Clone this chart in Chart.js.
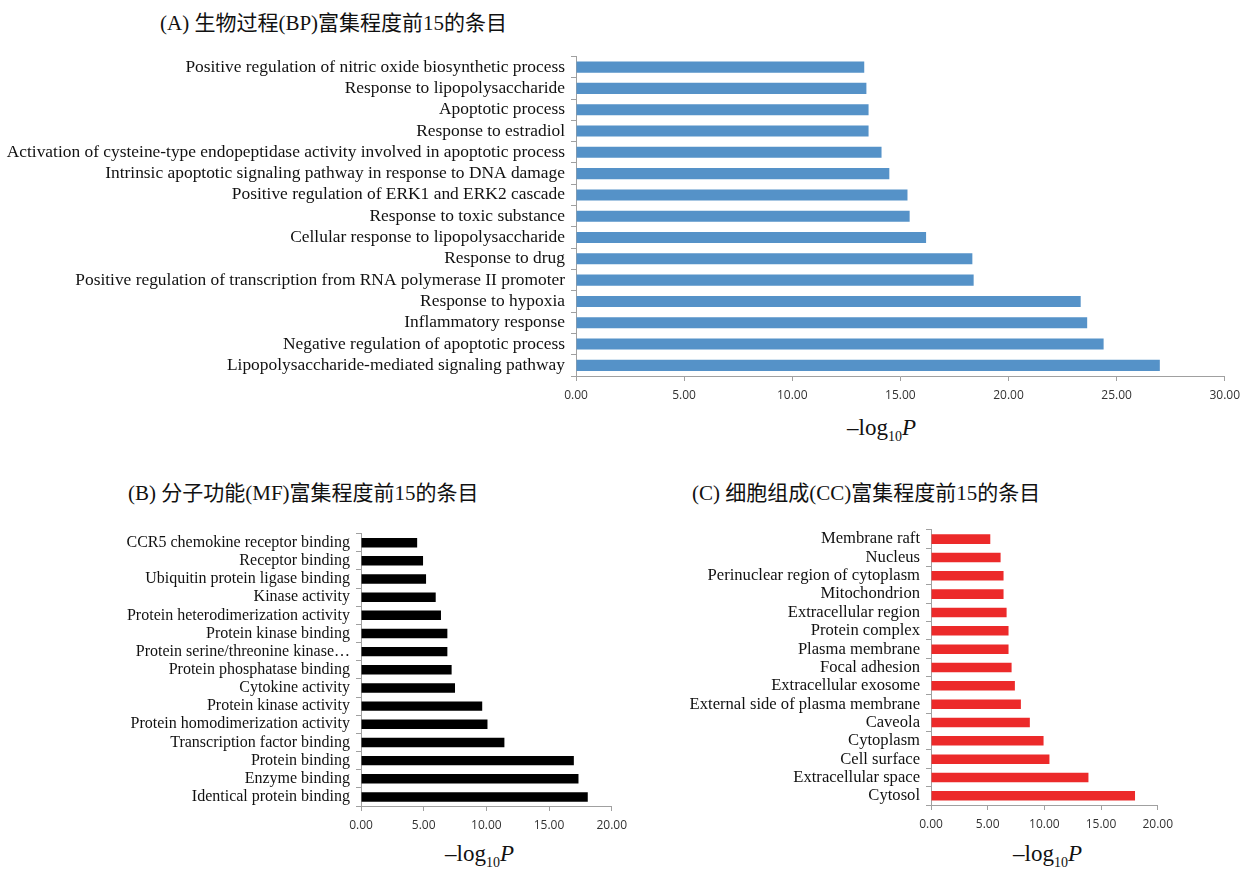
<!DOCTYPE html>
<html>
<head>
<meta charset="utf-8">
<script src="https://cdn.jsdelivr.net/npm/chart.js@4"></script>
<style>
  body { margin: 0; background: #fff; width: 1252px; height: 871px; position: relative; overflow: hidden; }
  canvas { position: absolute; }
  .titulo { position: absolute; font-family: "Liberation Serif", "Noto Sans CJK SC", serif; font-size: 21px; color: #111; white-space: nowrap; }
  .eje { position: absolute; font-family: "Liberation Serif", serif; font-size: 23px; color: #111; white-space: nowrap; }
  .eje sub { font-size: 14px; color: #111; }
</style>
</head>
<body>
<div class="titulo" style="left:160px; top:6px;">(A) 生物过程(BP)富集程度前15的条目</div>
<div class="titulo" style="left:128px; top:476px;">(B) 分子功能(MF)富集程度前15的条目</div>
<div class="titulo" style="left:692px; top:476px;">(C) 细胞组成(CC)富集程度前15的条目</div>

<canvas id="chartBP" width="1247" height="370" style="left:0px; top:40px;"></canvas>
<canvas id="chartMF" width="634" height="322" style="left:0px; top:518px;"></canvas>
<canvas id="chartCC" width="580" height="325" style="left:600px; top:514px;"></canvas>

<div class="eje" style="left:847px; top:415px;">&ndash;log<sub>10</sub><i>P</i></div>
<div class="eje" style="left:445px; top:841px;">&ndash;log<sub>10</sub><i>P</i></div>
<div class="eje" style="left:1013px; top:841px;">&ndash;log<sub>10</sub><i>P</i></div>

<script>
// ==========================================
// DATOS (de arriba hacia abajo)
// ==========================================
const bpLabels = [
    "Positive regulation of nitric oxide biosynthetic process",
    "Response to lipopolysaccharide",
    "Apoptotic process",
    "Response to estradiol",
    "Activation of cysteine-type endopeptidase activity involved in apoptotic process",
    "Intrinsic apoptotic signaling pathway in response to DNA damage",
    "Positive regulation of ERK1 and ERK2 cascade",
    "Response to toxic substance",
    "Cellular response to lipopolysaccharide",
    "Response to drug",
    "Positive regulation of transcription from RNA polymerase II promoter",
    "Response to hypoxia",
    "Inflammatory response",
    "Negative regulation of apoptotic process",
    "Lipopolysaccharide-mediated signaling pathway"
];
const bpValues = [13.33, 13.43, 13.53, 13.53, 14.13, 14.49, 15.33, 15.43, 16.19, 18.33, 18.39, 23.34, 23.64, 24.40, 27.00];

const mfLabels = [
    "CCR5 chemokine receptor binding",
    "Receptor binding",
    "Ubiquitin protein ligase binding",
    "Kinase activity",
    "Protein heterodimerization activity",
    "Protein kinase binding",
    "Protein serine/threonine kinase\u2026",
    "Protein phosphatase binding",
    "Cytokine activity",
    "Protein kinase activity",
    "Protein homodimerization activity",
    "Transcription factor binding",
    "Protein binding",
    "Enzyme binding",
    "Identical protein binding"
];
const mfValues = [4.48, 4.95, 5.19, 5.96, 6.38, 6.89, 6.89, 7.23, 7.50, 9.67, 10.09, 11.44, 16.98, 17.35, 18.09];

const ccLabels = [
    "Membrane raft",
    "Nucleus",
    "Perinuclear region of cytoplasm",
    "Mitochondrion",
    "Extracellular region",
    "Protein complex",
    "Plasma membrane",
    "Focal adhesion",
    "Extracellular exosome",
    "External side of plasma membrane",
    "Caveola",
    "Cytoplasm",
    "Cell surface",
    "Extracellular space",
    "Cytosol"
];
const ccValues = [5.23, 6.14, 6.40, 6.40, 6.67, 6.84, 6.84, 7.11, 7.40, 7.93, 8.72, 9.93, 10.45, 13.89, 18.00];

const xTicksBP = [0, 30, 5];
const xTicksSmall = [0, 20, 5];

// ==========================================
// CONFIGURACIÓN COMÚN
// ==========================================
Chart.defaults.animation = false;
Chart.defaults.devicePixelRatio = 1;

function crearGrafica(id, labels, values, color, ticks, yWidth, fontSize) {
    return new Chart(document.getElementById(id), {
        type: 'bar',
        data: {
            labels: labels,
            datasets: [{
                data: values,
                backgroundColor: color,
                borderWidth: 0,
                barPercentage: 0.52,
                categoryPercentage: 1
            }]
        },
        options: {
            indexAxis: 'y',
            responsive: false,
            layout: { padding: { top: 10, right: 22, bottom: 4, left: 0 } },
            plugins: { legend: { display: false }, tooltip: { enabled: false } },
            scales: {
                x: {
                    min: ticks[0],
                    max: ticks[1],
                    ticks: {
                        stepSize: ticks[2],
                        padding: 7,
                        color: '#333',
                        font: { family: "'Open Sans', sans-serif", size: 12 },
                        maxRotation: 0,
                        callback: v => v.toFixed(2)
                    },
                    grid: { drawOnChartArea: false, tickLength: 5, color: '#a0a0a0' },
                    border: { color: '#a0a0a0' },
                    afterFit: s => { s.height = 30; }
                },
                y: {
                    ticks: {
                        padding: 6,
                        color: '#111',
                        font: { family: "'Liberation Serif', serif", size: fontSize },
                        autoSkip: false
                    },
                    grid: { drawOnChartArea: false, tickLength: 5, color: '#a0a0a0' },
                    border: { color: '#a0a0a0' },
                    afterFit: s => { s.width = yWidth; }
                }
            }
        }
    });
}

crearGrafica('chartBP', bpLabels, bpValues, '#5592c8', xTicksBP, 576, 17.4);
crearGrafica('chartMF', mfLabels, mfValues, '#000000', xTicksSmall, 361, 16);
crearGrafica('chartCC', ccLabels, ccValues, '#ec2a2a', xTicksSmall, 331, 16.6);
</script>
</body>
</html>
